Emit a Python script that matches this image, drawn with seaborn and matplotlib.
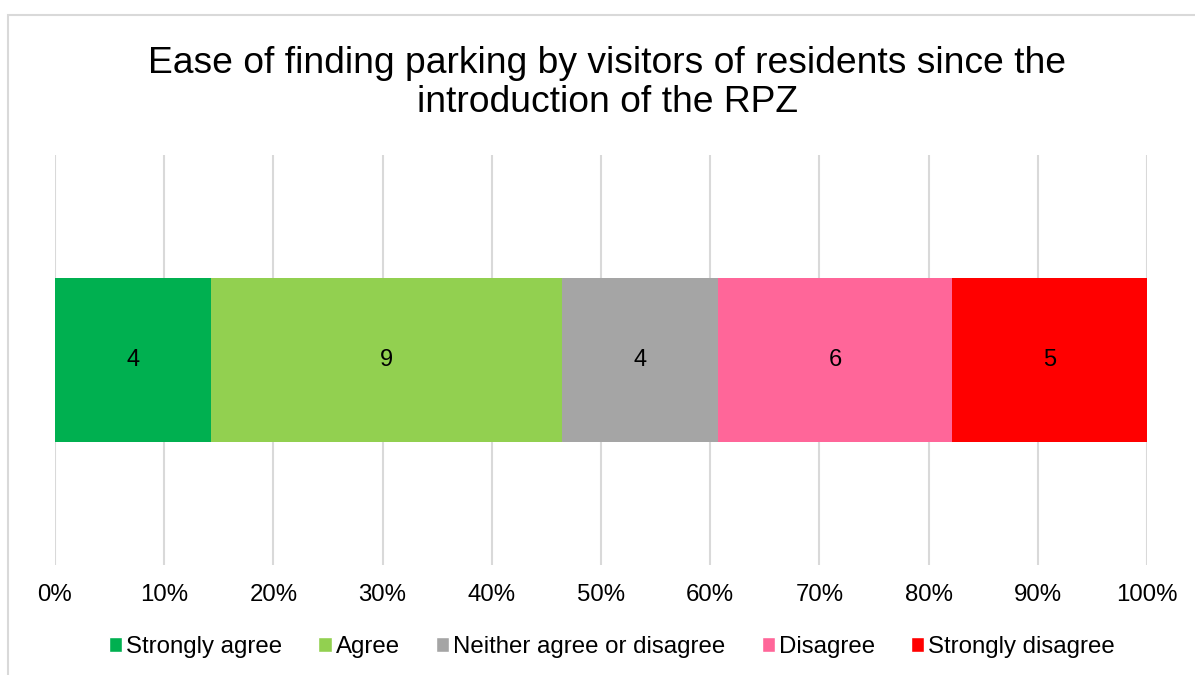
import numpy as np
import seaborn as sns
import matplotlib.pyplot as plt
from matplotlib.patches import Patch, Rectangle

# survey responses (counts)
categories = ["Strongly agree", "Agree", "Neither agree or disagree", "Disagree", "Strongly disagree"]
counts = [4, 9, 4, 6, 5]
colors = ["#00B050", "#92D050", "#A5A5A5", "#FF6699", "#FF0000"]
tick_labels = ["0%", "10%", "20%", "30%", "40%", "50%", "60%", "70%", "80%", "90%", "100%"]
title = "Ease of finding parking by visitors of residents since the\nintroduction of the RPZ"

sns.set_theme(style="white")
plt.rcParams['font.family'] = ['Liberation Sans', 'DejaVu Sans']
plt.rcParams['text.color'] = 'black'
plt.rcParams['xtick.color'] = 'black'

share = np.array(counts) / sum(counts) * 100
cum = np.cumsum(share)
starts = cum - share

fig = plt.figure(figsize=(11.95, 6.75), dpi=100)
ax = fig.add_axes([55 / 1195, 1 - 565 / 675, (1147 - 55) / 1195, 410 / 675])

# stacked bar: draw cumulative totals from the longest down
for i in range(len(categories) - 1, -1, -1):
    sns.barplot(x=[cum[i]], y=[""], orient="h", color=colors[i], width=0.4,
                saturation=1, linewidth=0, ax=ax, zorder=2)

for s, w, c in zip(starts, share, counts):
    ax.text(s + w / 2, 0, str(c), ha="center", va="center", fontsize=17, color="black", zorder=3)

ax.set_xlim(0, 100)
ax.set_ylim(0.5, -0.5)
ax.set_xticks(np.arange(0, 101, 10))
ax.set_xticklabels(tick_labels, fontsize=17.3)
ax.set_yticks([])
ax.set_xlabel("")
ax.set_ylabel("")
ax.grid(axis="x", color="#D9D9D9", linewidth=1.5, zorder=0)
ax.set_axisbelow(True)
ax.tick_params(axis="x", length=0, pad=14)
for sp in ax.spines.values():
    sp.set_visible(False)

fig.text(0.508, 0.877, title, ha="center", va="center", fontsize=26.8, linespacing=1.15)

handles = [Patch(facecolor=col, label=lab) for col, lab in zip(colors, categories)]
fig.legend(handles=handles, loc="center", bbox_to_anchor=(612 / 1195, 1 - 647 / 675), ncol=5,
           frameon=False, fontsize=17.3, handlelength=0.55, handleheight=0.55,
           handletextpad=0.17, columnspacing=1.5)

# chart border (cropped at right and bottom)
fig.patches.append(Rectangle((8 / 1195, -0.1), 1.2, 1 - 15 / 675 + 0.1, transform=fig.transFigure,
                             fill=False, edgecolor="#D9D9D9", linewidth=1.5))

fig.savefig("out.png", dpi=100)
